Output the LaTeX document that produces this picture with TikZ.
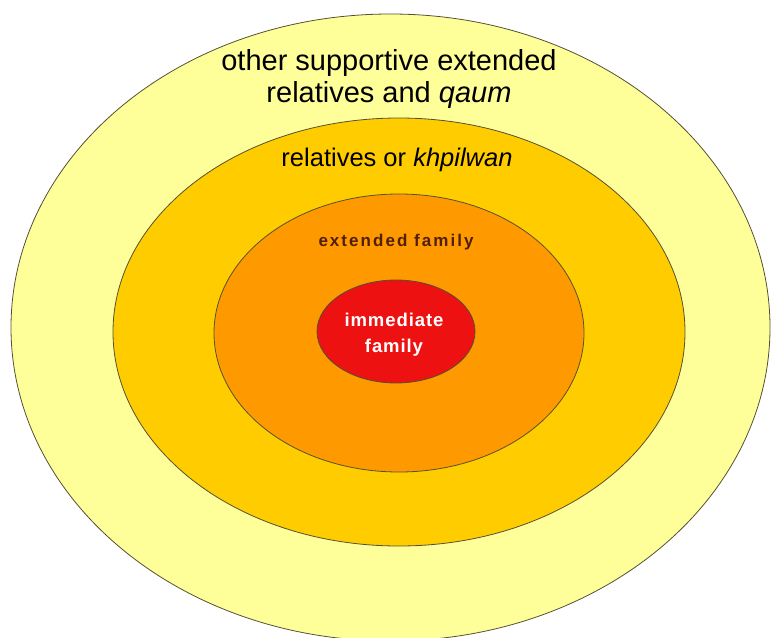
\documentclass[tikz,border=0pt]{standalone}
\usepackage{fontspec}
\setmainfont{Liberation Sans}
\newfontfamily\spacedfont[LetterSpace=12]{Liberation Sans}
\newfontfamily\corefont[LetterSpace=5]{Liberation Sans}
\usetikzlibrary{shapes.geometric}
\definecolor{paleyellow}{RGB}{255,255,153}
\definecolor{gold}{RGB}{255,204,0}
\definecolor{deeporange}{RGB}{255,153,0}
\definecolor{core}{RGB}{238,17,17}
\definecolor{ringline}{RGB}{85,80,50}
\definecolor{darkbrown}{RGB}{80,30,10}
\begin{document}
\begin{tikzpicture}[x=1pt, y=-1pt, ring/.style = {draw=ringline, ellipse, line width=0.8pt, inner sep=0pt}, txt/.style = {align=center, inner sep=0pt}]
			\useasboundingbox (0,0) rectangle (775,637);
			
			\node[ring, fill=paleyellow, minimum width=759pt, minimum height=627pt] (1) at (390.5,327.5) {};
			\node[ring, fill=gold, minimum width=572pt, minimum height=428pt] (2) at (399,332) {};
			\node[ring, fill=deeporange, minimum width=370pt, minimum height=278pt] (3) at (399,333) {};
			\node[ring, fill=core, minimum width=158pt, minimum height=103pt] (4) at (396,331.5) {};
			
			\node[txt, font=\fontsize{29}{32}\selectfont] (t1) at (389,79) {other supportive extended\\relatives and \textit{qaum}};
			\node[txt, font=\fontsize{25.5}{30}\selectfont] (t2) at (397,160) {relatives or \textit{khpilwan}};
			\node[txt, text=darkbrown, font=\fontsize{17}{20}\spacedfont\bfseries] (t3) at (396,242) {extended family};
			\node[txt, text=white, font=\fontsize{18.5}{26}\corefont\bfseries] (t4) at (394,335) {immediate\\family};
			
		\end{tikzpicture}
\end{document}
